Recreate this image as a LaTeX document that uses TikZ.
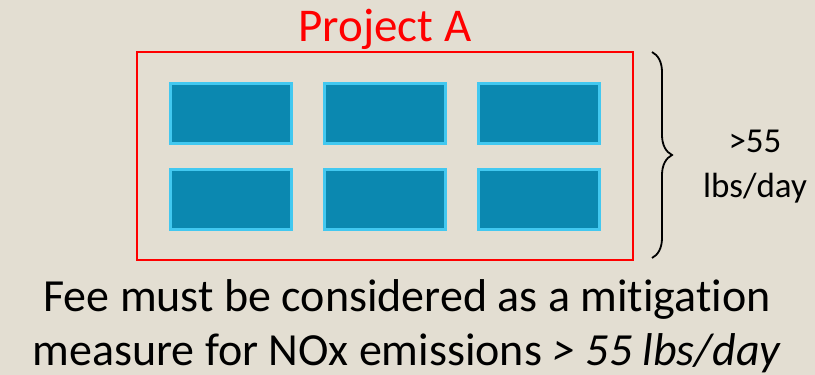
\documentclass[tikz,border=0pt]{standalone}
\usepackage{fontspec}
\setmainfont{Carlito}[Ligatures=NoCommon]
\usetikzlibrary{decorations.pathreplacing}
\definecolor{bg}{RGB}{227,222,210}
\definecolor{unitfill}{RGB}{11,136,176}
\definecolor{unitedge}{RGB}{66,200,240}
\definecolor{projred}{RGB}{255,0,0}
\tikzset{
  unit/.style={draw=unitedge, fill=unitfill, line width=3pt, minimum width=121pt, minimum height=60pt, inner sep=0pt},
  projbox/.style={draw=projred, line width=2.5pt},
}
\begin{document}
\begin{tikzpicture}[x=1pt,y=-1pt]
\fill[bg] (0,0) rectangle (815,375);
\useasboundingbox (0,0) rectangle (815,375);
\draw[projbox] (137,52) rectangle (633,260);
\node[unit] (u11) at (231,113.5) {};
\node[unit] (u12) at (385,113.5) {};
\node[unit] (u13) at (539,113.5) {};
\node[unit] (u21) at (231,199.5) {};
\node[unit] (u22) at (385,199.5) {};
\node[unit] (u23) at (539,199.5) {};
\node[text=projred, anchor=base, font=\fontsize{47}{52}\selectfont] (title) at (385,41) {Project A};
\draw[line width=1.8pt, decorate, decoration={brace, amplitude=20pt}] (652,52) -- (652,258);
\node[anchor=base, font=\fontsize{35}{42}\selectfont] (amt1) at (755,152) {>55};
\node[anchor=base, font=\fontsize{35}{42}\selectfont] (amt2) at (755,197) {lbs/day};
\node[anchor=base, font=\fontsize{46}{52}\selectfont] (l1) at (407,311) {Fee must be considered as a mitigation};
\node[anchor=base, font=\fontsize{46}{52}\selectfont] (l2) at (407,365) {measure for NOx emissions \textit{> 55 lbs/day}};
\end{tikzpicture}
\end{document}
